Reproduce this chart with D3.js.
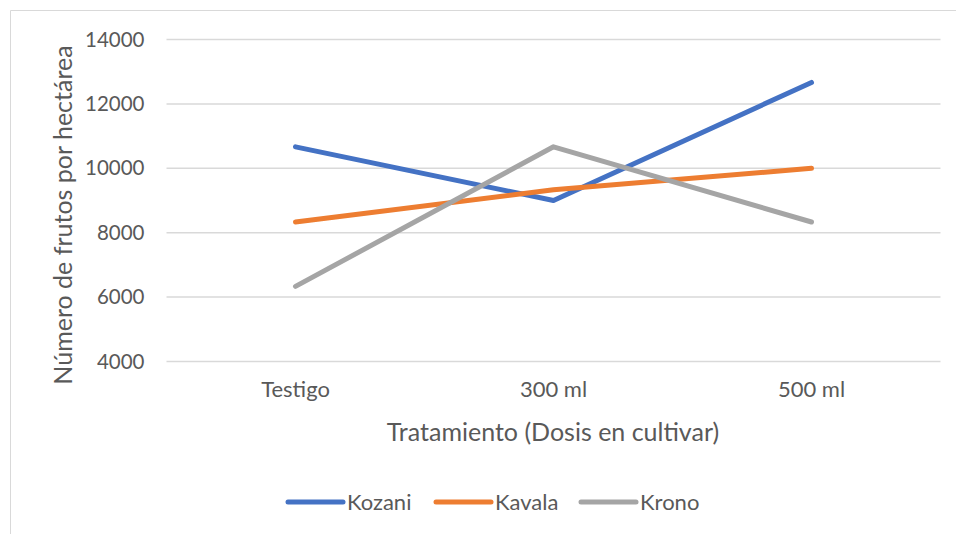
<!DOCTYPE html>
<html>
<head>
<meta charset="utf-8">
<script src="https://cdn.jsdelivr.net/npm/d3@7"></script>
<style>
  body { margin: 0; background: #fff; }
  text { font-family: Lato, "Open Sans", sans-serif; fill: #595959; }
</style>
</head>
<body>
<svg id="chart" width="956" height="534"></svg>
<script>
const categories = ['Testigo', '300 ml', '500 ml'];
const seriesNames = ['Kozani', 'Kavala', 'Krono'];
const kozani = [10667, 9000, 12667];
const kavala = [8333, 9333, 10000];
const krono = [6333, 10667, 8333];
const yTicks = [4000, 6000, 8000, 10000, 12000, 14000];
const colors = ['#4472C4', '#ED7D31', '#A5A5A5'];

const series = [kozani, kavala, krono];
const svg = d3.select('#chart');

// outer frame (only top and left edges are visible in the picture)
svg.append('path').attr('d', 'M10.5,534V10.5H956').attr('fill', 'none').attr('stroke', '#d9d9d9');

const plotL = 166.5, plotR = 940.5, plotT = 39.5, plotB = 361.5;
const x = d3.scaleBand().domain(categories).range([plotL, plotR]);
const y = d3.scaleLinear().domain([4000, 14000]).range([plotB, plotT]);

// gridlines
svg.append('g').selectAll('line').data(yTicks).enter().append('line')
  .attr('x1', plotL).attr('x2', plotR)
  .attr('y1', d => y(d)).attr('y2', d => y(d))
  .attr('stroke', '#d9d9d9').attr('stroke-width', 1.5);

const yAxis = svg.append('g').attr('transform', `translate(${plotL},0)`)
  .call(d3.axisLeft(y).tickValues(yTicks).tickSize(0).tickPadding(22).tickFormat(d3.format('d')));
yAxis.select('.domain').remove();
yAxis.selectAll('text').style('font-size', '20.5px').attr('fill', '#595959');

const xAxis = svg.append('g').attr('transform', `translate(0,${plotB})`)
  .call(d3.axisBottom(x).tickSize(0).tickPadding(20));
xAxis.select('.domain').remove();
xAxis.selectAll('text').style('font-size', '22px').attr('fill', '#595959');

svg.append('text').attr('x', 553).attr('y', 441).attr('text-anchor', 'middle')
  .style('font-size', '25px').text('Tratamiento (Dosis en cultivar)');

svg.append('text').attr('transform', 'translate(72,215) rotate(-90)').attr('text-anchor', 'middle')
  .style('font-size', '25px').text('Número de frutos por hectárea');

const line = d3.line().x((d, i) => x(categories[i]) + x.bandwidth() / 2).y(d => y(d));
svg.append('g').selectAll('path').data(series).enter().append('path')
  .attr('d', d => line(d)).attr('fill', 'none')
  .attr('stroke', (_, i) => colors[i]).attr('stroke-width', 5)
  .attr('stroke-linecap', 'round').attr('stroke-linejoin', 'round');

// legend
const legendX = [288, 436, 581];
const lg = svg.append('g').selectAll('g').data(seriesNames).enter().append('g')
  .attr('transform', (_, i) => `translate(${legendX[i]},502)`);
lg.append('line').attr('x1', 0).attr('x2', 55).attr('y1', 0).attr('y2', 0)
  .attr('stroke', (_, i) => colors[i]).attr('stroke-width', 5).attr('stroke-linecap', 'round');
lg.append('text').attr('x', 59).attr('y', 8).style('font-size', '22px').text(d => d);
</script>
</body>
</html>
